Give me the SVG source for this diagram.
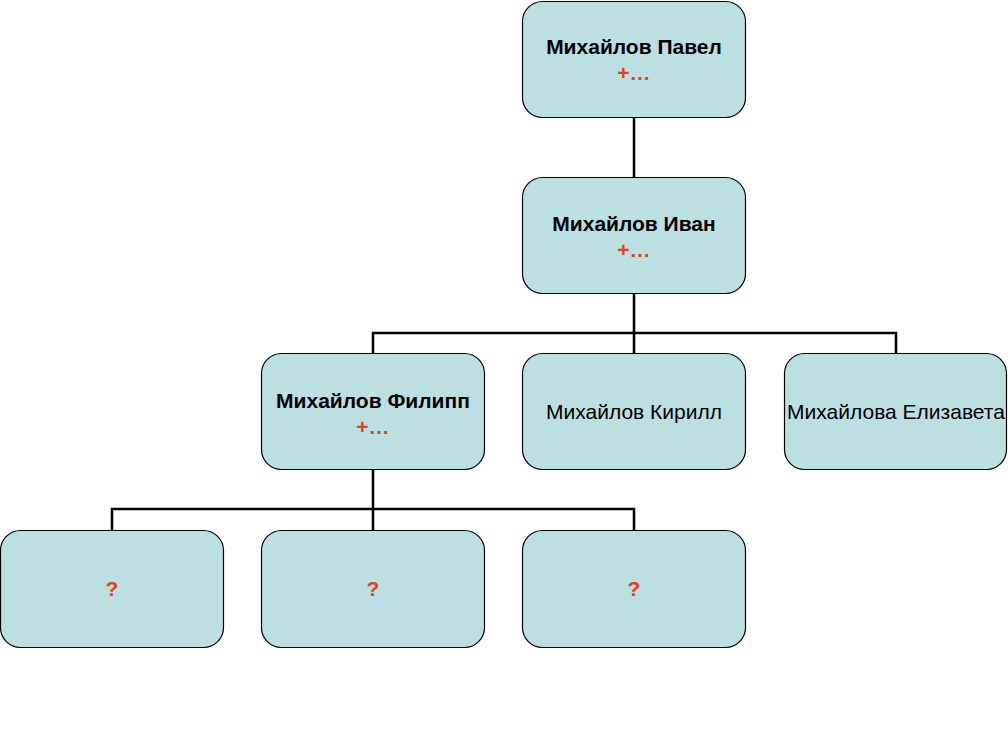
<svg xmlns="http://www.w3.org/2000/svg" width="1008" height="756" viewBox="0 0 1008 756">
<style>
.box{fill:#bcdfe2;stroke:#000;stroke-width:1.2}
.t{font-family:"Liberation Sans",Arial,sans-serif;font-size:21px;text-anchor:middle;fill:#000}
.b{font-weight:bold}
.r{fill:#e8401c;font-weight:bold}
.c{fill:none;stroke:#000;stroke-width:2.5}
</style>
<rect width="1008" height="756" fill="#fff"/>
<g id="connectors">
<path class="c" d="M634 117V177"/>
<path class="c" d="M634 294V353M373 353V333H896V353"/>
<path class="c" d="M373 470V530M112 530V509H634V530"/>
</g>
<g id="n-pavel"><rect class="box" x="522.5" y="1.5" width="223" height="116" rx="20"/><text class="t b" x="634" y="54">Михайлов Павел</text><text class="t r" x="634" y="80">+…</text></g>
<g id="n-ivan"><rect class="box" x="522.5" y="177.5" width="223" height="116" rx="20"/><text class="t b" x="634" y="231">Михайлов Иван</text><text class="t r" x="634" y="257">+…</text></g>
<g id="n-filipp"><rect class="box" x="261.5" y="353.5" width="223" height="116" rx="20"/><text class="t b" x="373" y="408">Михайлов Филипп</text><text class="t r" x="373" y="434">+…</text></g>
<g id="n-kirill"><rect class="box" x="522.5" y="353.5" width="223" height="116" rx="20"/><text class="t" x="634" y="419">Михайлов Кирилл</text></g>
<g id="n-elizaveta"><rect class="box" x="784.5" y="353.5" width="222" height="116" rx="20"/><text class="t" x="896" y="419">Михайлова Елизавета</text></g>
<g id="n-q1"><rect class="box" x="0.5" y="530.5" width="223" height="117" rx="20"/><text class="t r" x="112" y="596">?</text></g>
<g id="n-q2"><rect class="box" x="261.5" y="530.5" width="223" height="117" rx="20"/><text class="t r" x="373" y="596">?</text></g>
<g id="n-q3"><rect class="box" x="522.5" y="530.5" width="223" height="117" rx="20"/><text class="t r" x="634" y="596">?</text></g>
</svg>
